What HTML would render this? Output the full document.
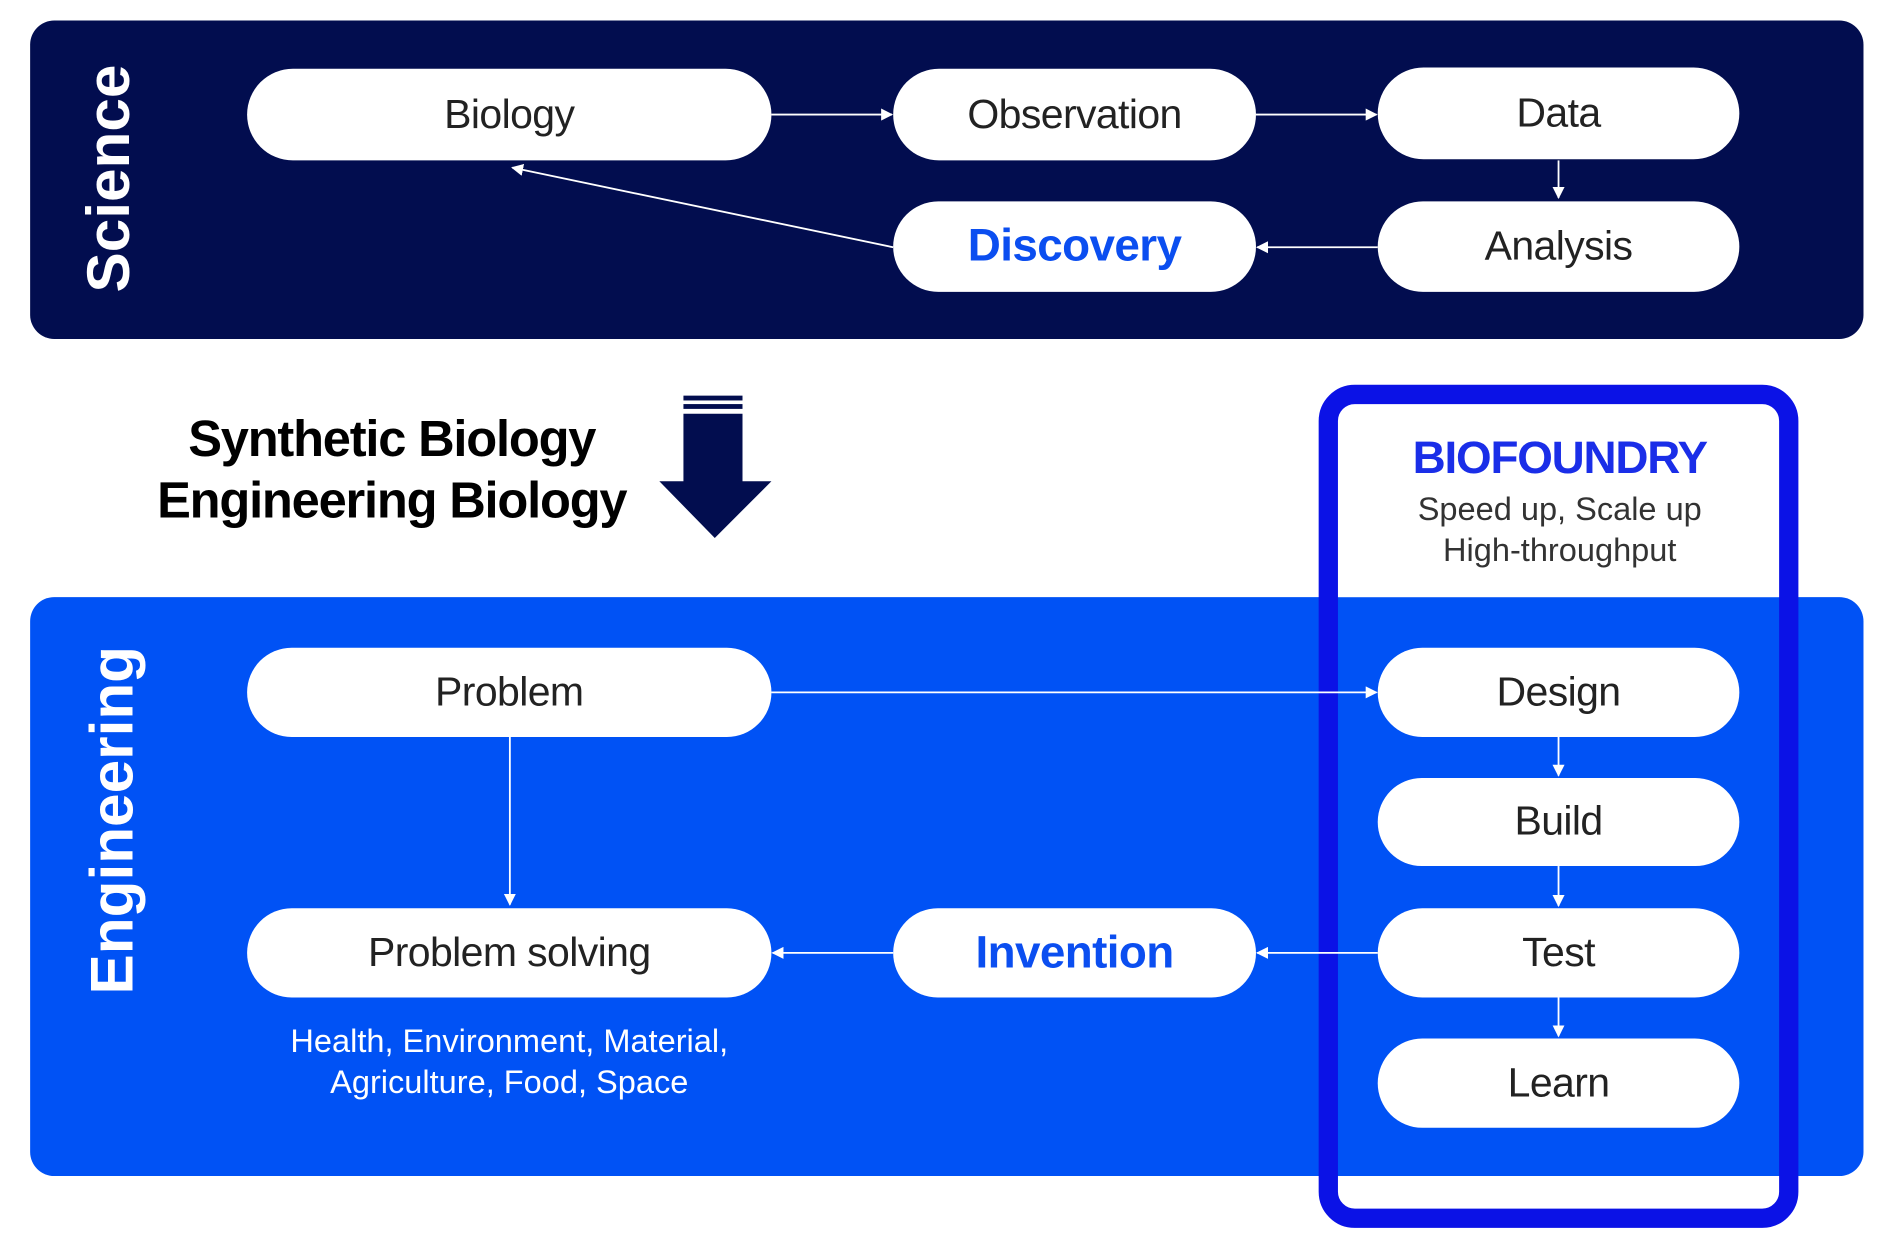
<!DOCTYPE html>
<html><head><meta charset="utf-8"><style>
html,body{margin:0;padding:0;background:#fff;width:1890px;height:1240px;overflow:hidden}
#w{position:absolute;left:0;top:0;width:1568px;height:1028px;transform-origin:0 0;transform:scale(1.20536,1.2062);font-family:"Liberation Sans",sans-serif}
.p{position:absolute;background:#fff;border-radius:40px;display:flex;align-items:center;justify-content:center;font-size:34px;color:#222;letter-spacing:-0.5px}
.a{position:absolute}
</style></head><body>
<div id="w">
<div class="a" style="left:25px;top:17px;width:1521px;height:264px;background:#020d4f;border-radius:20px"></div>
<div class="a" style="left:25px;top:495px;width:1521px;height:480px;background:#0052f5;border-radius:20px"></div>
<div class="a" style="left:1102px;top:327px;width:382px;height:168px;background:#fff;border-radius:24px 24px 0 0"></div>
<div class="a" style="left:1094px;top:319px;width:366px;height:667px;border:16px solid #0b12e6;border-radius:30px"></div>
<div class="a" style="left:90px;top:148px;transform:translate(-50%,-50%) rotate(-90deg);color:#fff;font-weight:bold;font-size:50px;white-space:nowrap">Science</div>
<div class="a" style="left:93px;top:680px;transform:translate(-50%,-50%) rotate(-90deg);color:#fff;font-weight:bold;font-size:50px;white-space:nowrap">Engineering</div>
<svg class="a" style="left:0;top:0" width="1568" height="1028">
<defs><marker id="m" markerWidth="10" markerHeight="10" refX="9" refY="5" orient="auto" markerUnits="userSpaceOnUse"><path d="M0,0 L10,5 L0,10 z" fill="#fff"/></marker></defs>
<g stroke="#fff" stroke-width="1.5" fill="none" marker-end="url(#m)">
<line x1="640" y1="95" x2="740" y2="95"/>
<line x1="1042" y1="95" x2="1142" y2="95"/>
<line x1="1293" y1="133" x2="1293" y2="164"/>
<line x1="1143" y1="205" x2="1043" y2="205"/>
<line x1="741" y1="205" x2="425" y2="139"/>
<line x1="640" y1="574" x2="1142" y2="574"/>
<line x1="423" y1="611" x2="423" y2="750"/>
<line x1="1293" y1="611" x2="1293" y2="643"/>
<line x1="1293" y1="718" x2="1293" y2="751"/>
<line x1="1293" y1="827" x2="1293" y2="859"/>
<line x1="1143" y1="790" x2="1043" y2="790"/>
<line x1="741" y1="790" x2="641" y2="790"/>
</g>
<g fill="#020d4f">
<rect x="567" y="328" width="49" height="4"/><rect x="567" y="335" width="49" height="4"/>
<polygon points="567,343 616,343 616,399 640,399 593,446 547,399 567,399"/>
</g>
</svg>
<div class="p" style="left:205px;top:57px;width:435px;height:76px">Biology</div>
<div class="p" style="left:741px;top:57px;width:301px;height:76px">Observation</div>
<div class="p" style="left:1143px;top:56px;width:300px;height:76px">Data</div>
<div class="p" style="left:741px;top:167px;width:301px;height:75px;color:#0b4ef0;font-weight:bold;font-size:38px">Discovery</div>
<div class="p" style="left:1143px;top:167px;width:300px;height:75px">Analysis</div>
<div class="p" style="left:205px;top:537px;width:435px;height:74px">Problem</div>
<div class="p" style="left:1143px;top:537px;width:300px;height:74px">Design</div>
<div class="p" style="left:1143px;top:645px;width:300px;height:73px">Build</div>
<div class="p" style="left:1143px;top:753px;width:300px;height:74px">Test</div>
<div class="p" style="left:1143px;top:861px;width:300px;height:74px">Learn</div>
<div class="p" style="left:205px;top:753px;width:435px;height:74px">Problem solving</div>
<div class="p" style="left:741px;top:753px;width:301px;height:74px;color:#0b4ef0;font-weight:bold;font-size:38px">Invention</div>
<div class="a" style="left:100px;width:450px;top:338px;text-align:center;font-weight:bold;font-size:42px;line-height:51px;color:#000;letter-spacing:-1px">Synthetic Biology<br>Engineering Biology</div>
<div class="a" style="left:1110px;width:368px;top:359px;text-align:center;font-weight:bold;font-size:38px;color:#1a2ee8;letter-spacing:-1px">BIOFOUNDRY</div>
<div class="a" style="left:1110px;width:368px;top:405px;text-align:center;font-size:27px;line-height:34px;color:#333">Speed up, Scale up<br>High-throughput</div>
<div class="a" style="left:180px;width:485px;top:846px;text-align:center;font-size:27px;line-height:34px;color:#fff">Health, Environment, Material,<br>Agriculture, Food, Space</div>
</div>
</body></html>
